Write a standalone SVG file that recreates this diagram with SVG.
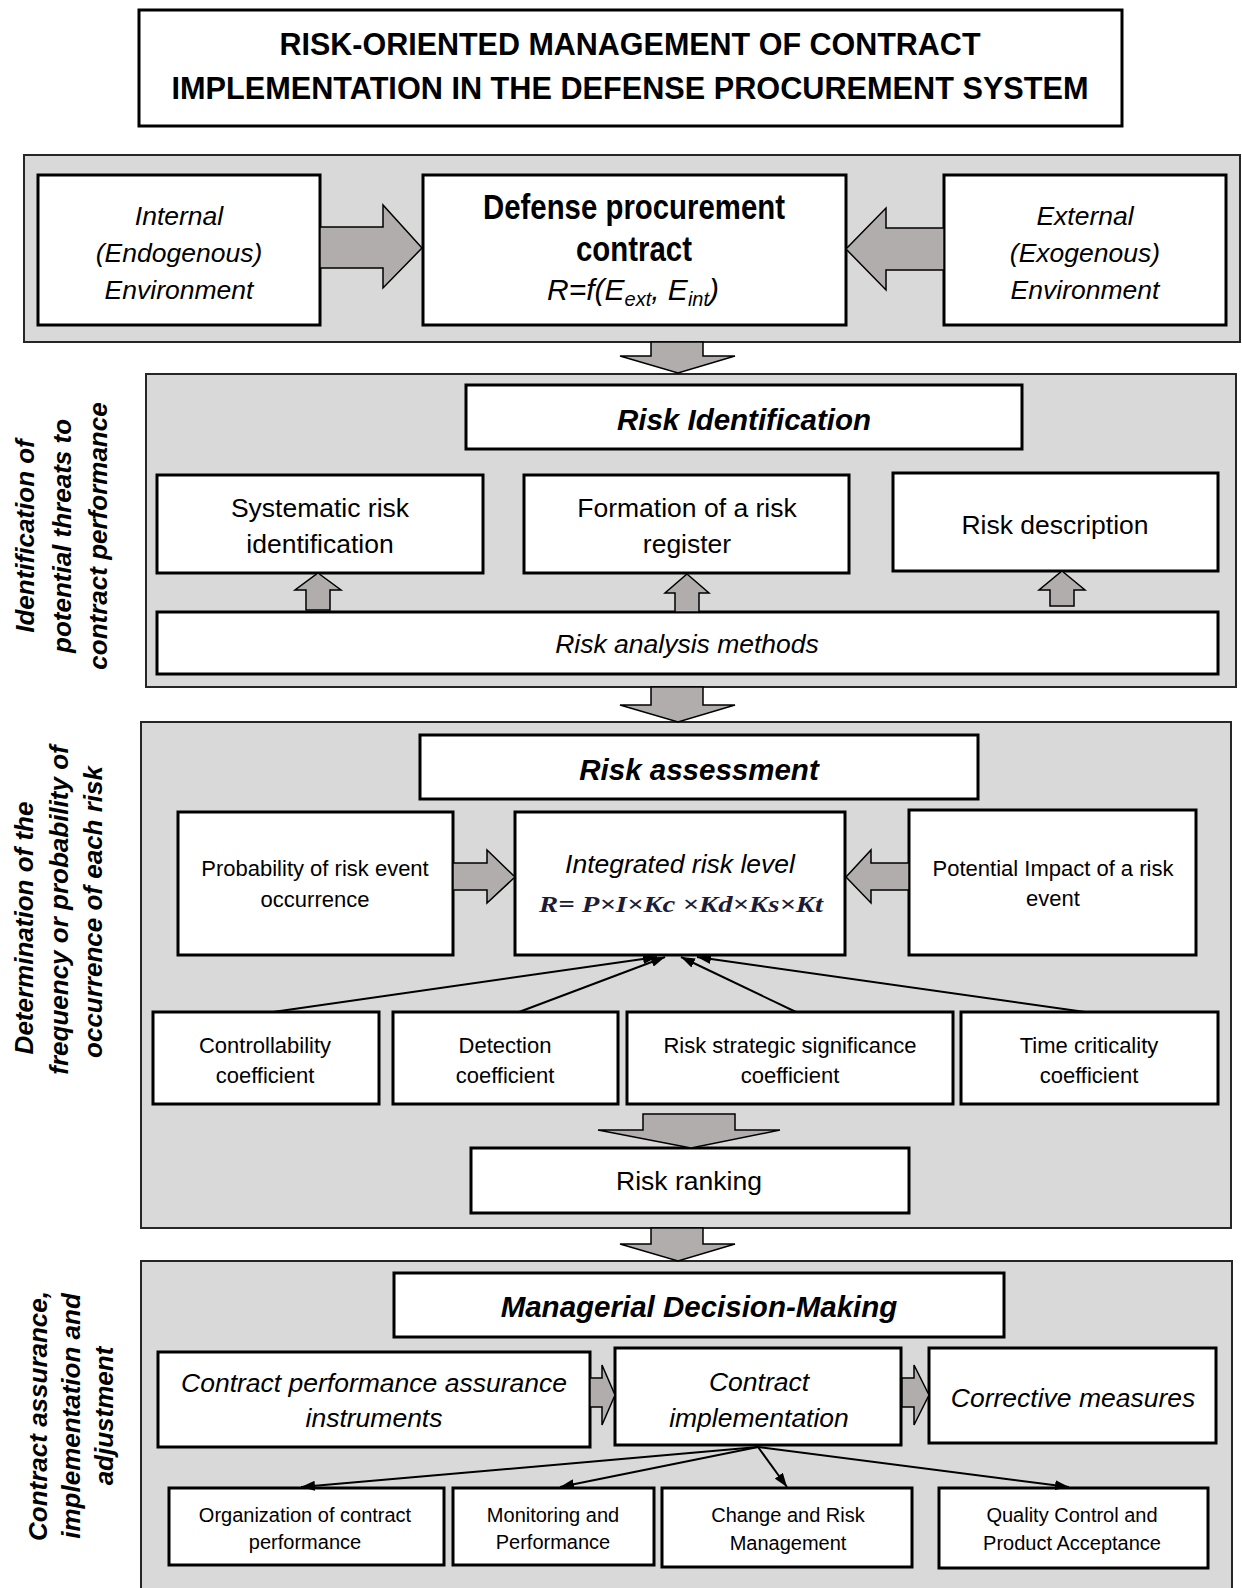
<svg xmlns="http://www.w3.org/2000/svg" width="1242" height="1588" viewBox="0 0 1242 1588">
<defs>
<style>
text{font-family:"Liberation Sans",Arial,sans-serif;fill:#000;text-anchor:middle}
text.fm{font-family:"Liberation Serif","Times New Roman",serif;font-weight:bold;font-style:italic;font-size:24px;fill:#1c1c36}
.panel{fill:#d9d9d9;stroke:#262626;stroke-width:2}
.box{fill:#fff;stroke:#000;stroke-width:3}
.barrow{fill:#b1adac;stroke:#000;stroke-width:1.5;stroke-linejoin:miter}
.ln{stroke:#000;stroke-width:2;fill:none}
.hd{font-weight:bold;font-style:italic;font-size:29.5px}
.it{font-style:italic}
.side{font-weight:bold;font-style:italic;font-size:26px}
.t26{font-size:26.5px}
.t22{font-size:22px}
.t20{font-size:20px}
</style>
<marker id="ah" viewBox="0 0 14 10" refX="14" refY="5" markerWidth="14" markerHeight="10" markerUnits="userSpaceOnUse" orient="auto">
<path d="M0,0 L14,5 L0,10 Z" fill="#000"/>
</marker>
</defs>
<rect width="1242" height="1588" fill="#fff"/>

<g id="title">
<rect class="box" x="139" y="10" width="983" height="116"/>
<text x="630" y="55" font-size="32" font-weight="bold" textLength="701" lengthAdjust="spacingAndGlyphs">RISK-ORIENTED MANAGEMENT OF CONTRACT</text>
<text x="630" y="99" font-size="32" font-weight="bold" textLength="917" lengthAdjust="spacingAndGlyphs">IMPLEMENTATION IN THE DEFENSE PROCUREMENT SYSTEM</text>
</g>

<!-- panels -->
<g id="panel-environment"><rect class="panel" x="24" y="155" width="1216" height="187"/></g>
<g id="panel-identification"><rect class="panel" x="146" y="374" width="1090" height="313"/></g>
<g id="panel-assessment"><rect class="panel" x="141" y="722" width="1090" height="506"/></g>
<g id="panel-decision"><rect class="panel" x="141" y="1261" width="1091" height="340"/></g>

<!-- side labels -->
<g id="label-identification">
<text class="side" transform="translate(34,536) rotate(-90)">Identification of</text>
<text class="side" transform="translate(71,536) rotate(-90)">potential threats to</text>
<text class="side" transform="translate(107,536) rotate(-90)">contract performance</text>
</g>
<g id="label-assessment">
<text class="side" transform="translate(33,928) rotate(-90)">Determination of the</text>
<text class="side" transform="translate(68,910) rotate(-90)">frequency or probability of</text>
<text class="side" transform="translate(102,912) rotate(-90)">occurrence of each risk</text>
</g>
<g id="label-decision">
<text class="side" transform="translate(47,1416) rotate(-90)">Contract assurance,</text>
<text class="side" transform="translate(80,1416) rotate(-90)">implementation and</text>
<text class="side" transform="translate(113,1416) rotate(-90)">adjustment</text>
</g>

<!-- nodes: panel 1 -->
<g id="internal">
<rect class="box" x="38" y="175" width="282" height="150"/>
<text class="t26 it" x="179" y="225">Internal</text>
<text class="t26 it" x="179" y="262">(Endogenous)</text>
<text class="t26 it" x="179" y="299">Environment</text>
</g>
<g id="contract">
<rect class="box" x="423" y="175" width="423" height="150"/>
<text x="634" y="219" font-size="35" font-weight="bold" textLength="302" lengthAdjust="spacingAndGlyphs">Defense procurement</text>
<text x="634" y="261" font-size="35" font-weight="bold" textLength="116" lengthAdjust="spacingAndGlyphs">contract</text>
<text class="it" x="633" y="300" font-size="30">R=f(E<tspan font-size="20" dy="6">ext</tspan><tspan dy="-6">, E</tspan><tspan font-size="20" dy="6">int</tspan><tspan dy="-6">)</tspan></text>
</g>
<g id="external">
<rect class="box" x="944" y="175" width="282" height="150"/>
<text class="t26 it" x="1085" y="225">External</text>
<text class="t26 it" x="1085" y="262">(Exogenous)</text>
<text class="t26 it" x="1085" y="299">Environment</text>
</g>

<!-- panel 2 -->
<g id="risk-identification">
<rect class="box" x="466" y="385" width="556" height="64"/>
<text class="hd" x="744" y="430">Risk Identification</text>
</g>
<g id="systematic">
<rect class="box" x="157" y="475" width="326" height="98"/>
<text class="t26" x="320" y="517">Systematic risk</text>
<text class="t26" x="320" y="553">identification</text>
</g>
<g id="register">
<rect class="box" x="524" y="475" width="325" height="98"/>
<text class="t26" x="687" y="517">Formation of a risk</text>
<text class="t26" x="687" y="553">register</text>
</g>
<g id="description">
<rect class="box" x="893" y="473" width="325" height="98"/>
<text class="t26" x="1055" y="534">Risk description</text>
</g>
<g id="analysis-methods">
<rect class="box" x="157" y="612" width="1061" height="62"/>
<text class="t26 it" x="687" y="653">Risk analysis methods</text>
</g>

<!-- panel 3 -->
<g id="risk-assessment">
<rect class="box" x="420" y="735" width="558" height="64"/>
<text class="hd" x="699" y="780">Risk assessment</text>
</g>
<g id="probability">
<rect class="box" x="178" y="812" width="275" height="143"/>
<text class="t22" x="315" y="876">Probability of risk event</text>
<text class="t22" x="315" y="907">occurrence</text>
</g>
<g id="integrated">
<rect class="box" x="515" y="812" width="330" height="143"/>
<text class="t26 it" x="680" y="873">Integrated risk level</text>
<text class="fm" x="681" y="912" textLength="284" lengthAdjust="spacingAndGlyphs">R= P×I×Kc ×Kd×Ks×Kt</text>
</g>
<g id="impact">
<rect class="box" x="909" y="810" width="287" height="145"/>
<text class="t22" x="1053" y="876">Potential Impact of a risk</text>
<text class="t22" x="1053" y="906">event</text>
</g>
<g id="controllability">
<rect class="box" x="153" y="1012" width="226" height="92"/>
<text class="t22" x="265" y="1053">Controllability</text>
<text class="t22" x="265" y="1083">coefficient</text>
</g>
<g id="detection">
<rect class="box" x="393" y="1012" width="225" height="92"/>
<text class="t22" x="505" y="1053">Detection</text>
<text class="t22" x="505" y="1083">coefficient</text>
</g>
<g id="strategic">
<rect class="box" x="627" y="1012" width="326" height="92"/>
<text class="t22" x="790" y="1053">Risk strategic significance</text>
<text class="t22" x="790" y="1083">coefficient</text>
</g>
<g id="time">
<rect class="box" x="961" y="1012" width="257" height="92"/>
<text class="t22" x="1089" y="1053">Time criticality</text>
<text class="t22" x="1089" y="1083">coefficient</text>
</g>
<g id="ranking">
<rect class="box" x="471" y="1148" width="438" height="65"/>
<text class="t26" x="689" y="1190">Risk ranking</text>
</g>

<!-- panel 4 -->
<g id="decision-making">
<rect class="box" x="394" y="1273" width="610" height="64"/>
<text class="hd" x="699" y="1317">Managerial Decision-Making</text>
</g>
<g id="assurance">
<rect class="box" x="158" y="1352" width="432" height="95"/>
<text class="t26 it" x="374" y="1392">Contract performance assurance</text>
<text class="t26 it" x="374" y="1427">instruments</text>
</g>
<g id="implementation">
<rect class="box" x="615" y="1348" width="286" height="97"/>
<text class="t26 it" x="759" y="1391">Contract</text>
<text class="t26 it" x="759" y="1427">implementation</text>
</g>
<g id="corrective">
<rect class="box" x="929" y="1348" width="287" height="95"/>
<text class="t26 it" x="1073" y="1407">Corrective measures</text>
</g>
<g id="organization">
<rect class="box" x="169" y="1488" width="275" height="77"/>
<text class="t20" x="305" y="1522">Organization of contract</text>
<text class="t20" x="305" y="1549">performance</text>
</g>
<g id="monitoring">
<rect class="box" x="453" y="1488" width="201" height="77"/>
<text class="t20" x="553" y="1522">Monitoring and</text>
<text class="t20" x="553" y="1549">Performance</text>
</g>
<g id="change">
<rect class="box" x="662" y="1488" width="250" height="79"/>
<text class="t20" x="788" y="1522">Change and Risk</text>
<text class="t20" x="788" y="1550">Management</text>
</g>
<g id="quality">
<rect class="box" x="939" y="1488" width="269" height="80"/>
<text class="t20" x="1072" y="1522">Quality Control and</text>
<text class="t20" x="1072" y="1550">Product Acceptance</text>
</g>

<!-- connectors -->
<g id="connectors">
<polygon class="barrow" points="320,227 383,227 383,205 422,248 383,288 383,268 320,268"/>
<polygon class="barrow" points="944,228 886,228 886,208 846,249 886,290 886,270 944,270"/>
<polygon class="barrow" points="651,342 703,342 703,356 735,356 678,373 620,356 651,356"/>
<polygon class="barrow" points="318,573 341,590 330,590 330,610 306,610 306,590 295,590"/>
<polygon class="barrow" points="687,574 709,593 699,593 699,612 675,612 675,593 665,593"/>
<polygon class="barrow" points="1062,571 1085,590 1074,590 1074,606 1050,606 1050,590 1039,590"/>
<polygon class="barrow" points="651,687 703,687 703,705 735,705 678,722 620,705 651,705"/>
<polygon class="barrow" points="453,863 487,863 487,850 515,877 487,903 487,890 453,890"/>
<polygon class="barrow" points="909,863 871,863 871,850 846,877 871,903 871,890 909,890"/>
<line class="ln" x1="273" y1="1012" x2="657" y2="957" marker-end="url(#ah)"/>
<line class="ln" x1="519" y1="1012" x2="665" y2="957" marker-end="url(#ah)"/>
<line class="ln" x1="796" y1="1012" x2="681" y2="957" marker-end="url(#ah)"/>
<line class="ln" x1="1085" y1="1012" x2="697" y2="957" marker-end="url(#ah)"/>
<polygon class="barrow" points="643,1114 735,1114 735,1130 780,1130 691,1148 598,1130 643,1130"/>
<polygon class="barrow" points="651,1228 703,1228 703,1244 735,1244 678,1261 620,1244 651,1244"/>
<polygon class="barrow" points="590,1378 602,1378 602,1365 615,1395 602,1425 602,1407 590,1407"/>
<polygon class="barrow" points="902,1378 914,1378 914,1365 929,1395 914,1425 914,1407 902,1407"/>
<line class="ln" x1="758" y1="1447" x2="301" y2="1487" marker-end="url(#ah)"/>
<line class="ln" x1="758" y1="1447" x2="560" y2="1487" marker-end="url(#ah)"/>
<line class="ln" x1="758" y1="1447" x2="787" y2="1487" marker-end="url(#ah)"/>
<line class="ln" x1="758" y1="1447" x2="1069" y2="1487" marker-end="url(#ah)"/>
</g>
</svg>
